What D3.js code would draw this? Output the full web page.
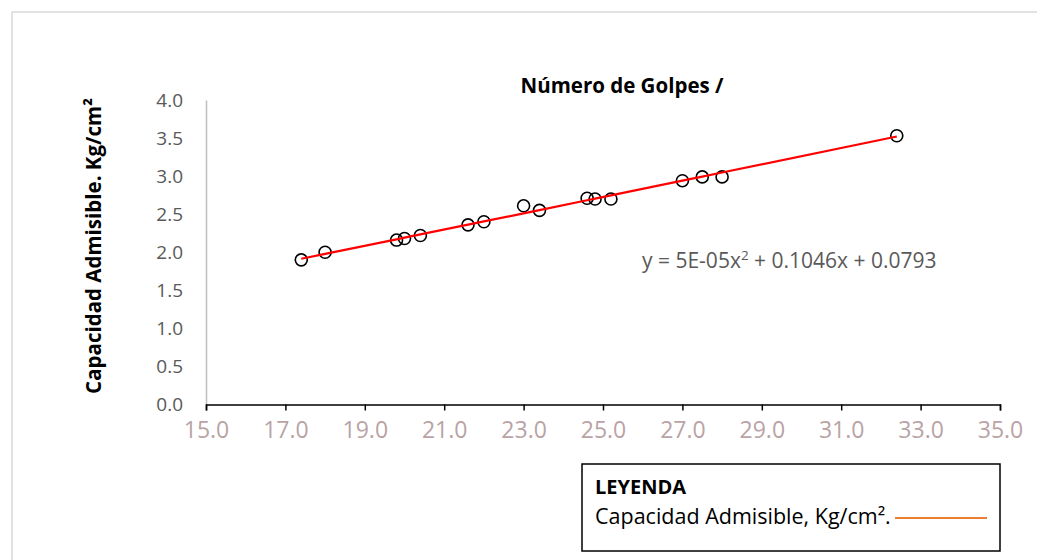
<!DOCTYPE html>
<html>
<head>
<meta charset="utf-8">
<script src="https://cdn.jsdelivr.net/npm/d3@7"></script>
<style>
  html, body { margin: 0; padding: 0; background: #fff; }
  svg { display: block; font-family: "Open Sans", "Noto Sans", sans-serif; }
</style>
</head>
<body>
<svg id="chart" width="1037" height="560"></svg>
<script>
// Número de golpes vs capacidad admisible
const golpes = [17.4, 18.0, 19.8, 20.0, 20.4, 21.6, 22.0, 23.0, 23.4, 24.6, 24.8, 25.2, 27.0, 27.5, 28.0, 32.4];
const capacidad = [1.90, 2.00, 2.16, 2.18, 2.22, 2.36, 2.40, 2.61, 2.55, 2.71, 2.70, 2.70, 2.94, 2.99, 2.99, 3.53];
// Polynomial trendline coefficients (a·x² + b·x + c)
const trendCoef = [0.00005, 0.1046, 0.0793];
const xTicks = [15, 17, 19, 21, 23, 25, 27, 29, 31, 33, 35];
const yTicks = [0, 0.5, 1.0, 1.5, 2.0, 2.5, 3.0, 3.5, 4.0];

const svg = d3.select("#chart");

// chart area frame
svg.append("rect")
  .attr("x", 12).attr("y", 12)
  .attr("width", 1040).attr("height", 560)
  .attr("fill", "none").attr("stroke", "#d9d9d9").attr("stroke-width", 1.5);

const x = d3.scaleLinear().domain([15, 35]).range([206, 1000]);
const y = d3.scaleLinear().domain([0, 4]).range([404.5, 100]);

// y axis (line only, grey)
const yAxis = svg.append("g").attr("transform", "translate(206,0)")
  .call(d3.axisLeft(y).tickValues(yTicks).tickSize(0).tickPadding(23).tickFormat(d3.format(".1f")));
yAxis.select(".domain").attr("stroke", "#bfbfbf").attr("stroke-width", 1.5);
yAxis.selectAll("text")
  .attr("fill", "#595959").style("font-size", "19px").attr("font-family", "Open Sans");

// x axis
const xAxis = svg.append("g").attr("transform", "translate(0,404.5)")
  .call(d3.axisBottom(x).tickValues(xTicks).tickSizeInner(6).tickSizeOuter(6).tickPadding(11).tickFormat(d3.format(".1f")));
xAxis.select(".domain").attr("stroke", "#000").attr("stroke-width", 1.5);
xAxis.selectAll(".tick line").attr("stroke", "#000").attr("stroke-width", 1.5);
xAxis.selectAll("text")
  .attr("fill", "#b9a3a5").style("font-size", "23px").attr("font-family", "Open Sans");

// markers
svg.append("g").selectAll("circle")
  .data(golpes.map((g, i) => [g, capacidad[i]]))
  .join("circle")
  .attr("cx", d => x(d[0])).attr("cy", d => y(d[1]))
  .attr("r", 6)
  .attr("fill", "none").attr("stroke", "#000").attr("stroke-width", 1.6);

// trendline evaluated at the observed abscissas (plus ends)
const trend = xv => trendCoef[0] * xv * xv + trendCoef[1] * xv + trendCoef[2];
const xs = [d3.min(golpes), ...golpes, d3.max(golpes)];
svg.append("path")
  .datum(xs.map(v => [v, trend(v)]))
  .attr("d", d3.line().x(d => x(d[0])).y(d => y(d[1])))
  .attr("fill", "none").attr("stroke", "#ff0000").attr("stroke-width", 2.2);

// title
svg.append("text")
  .attr("x", 622).attr("y", 93)
  .attr("text-anchor", "middle")
  .attr("font-weight", "bold").attr("font-size", 20.5).attr("fill", "#000")
  .text("Número de Golpes /");

// y-axis title
svg.append("text")
  .attr("transform", "translate(101,246) rotate(-90)")
  .attr("text-anchor", "middle")
  .attr("font-weight", "bold").attr("font-size", 20.5).attr("fill", "#000")
  .text("Capacidad  Admisible. Kg/cm²");

// trendline equation
const eq = svg.append("text")
  .attr("x", 642).attr("y", 268)
  .attr("font-size", 21).attr("fill", "#595959");
eq.append("tspan").text("y = 5E-05x");
eq.append("tspan").attr("dy", -8).attr("font-size", 13.5).text("2");
eq.append("tspan").attr("dy", 8).text(" + 0.1046x + 0.0793");

// legend box
const lg = svg.append("g");
lg.append("rect")
  .attr("x", 582).attr("y", 464).attr("width", 418).attr("height", 87)
  .attr("fill", "#fff").attr("stroke", "#000").attr("stroke-width", 1.5);
lg.append("text")
  .attr("x", 595).attr("y", 494)
  .attr("font-weight", "bold").attr("font-size", 20).attr("fill", "#000")
  .text("LEYENDA");
lg.append("text")
  .attr("x", 595).attr("y", 524)
  .attr("font-size", 21.5).attr("fill", "#000")
  .text("Capacidad Admisible, Kg/cm².");
lg.append("line")
  .attr("x1", 895).attr("x2", 987).attr("y1", 518).attr("y2", 518)
  .attr("stroke", "#ed7d31").attr("stroke-width", 2);
</script>
</body>
</html>
